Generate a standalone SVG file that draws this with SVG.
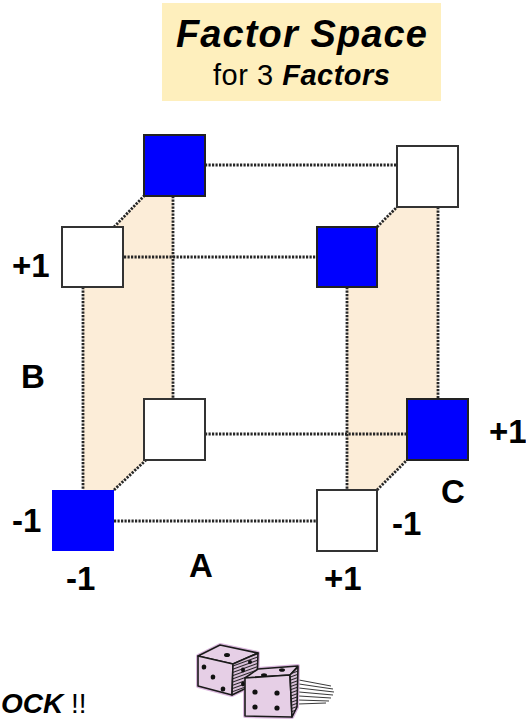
<svg xmlns="http://www.w3.org/2000/svg" width="526" height="719" viewBox="0 0 526 719">
<style>
.dot{fill:none;stroke:#262626;stroke-width:2.8;stroke-dasharray:2.2 1.3}
.wb{fill:#ffffff;stroke:#333333;stroke-width:2}
.bb{fill:#0000ff;stroke:#222222;stroke-width:2}
.bn{fill:#0000ff;stroke:none}
.lbl{font-family:"Liberation Sans",Arial,sans-serif;font-weight:bold;font-size:33px;fill:#000}
.shade{fill:#fcedd8;stroke:none}
.die{fill:#e6cfe6;stroke:#1a1a1a;stroke-width:1.6;stroke-linejoin:round}
.dieside{fill:#5a4a5a;stroke:#1a1a1a;stroke-width:1.6;stroke-linejoin:round}
.pip{fill:#111}
.ml{stroke:#222;stroke-width:0.9;fill:none}
</style>
<defs>
<pattern id="hatch" width="3" height="3" patternUnits="userSpaceOnUse" patternTransform="rotate(70)">
<rect width="3" height="3" fill="#d8bfd8"/>
<line x1="0" y1="0" x2="0" y2="3" stroke="#111" stroke-width="1.8"/>
</pattern>
</defs>

<g id="title">
<rect x="162" y="3" width="279" height="98" fill="#feefbd"/>
<text x="176" y="47" textLength="251" lengthAdjust="spacing" style="font-family:'Liberation Sans',Arial,sans-serif;font-weight:bold;font-style:italic;font-size:38px">Factor Space</text>
<text x="213" y="85" textLength="177" lengthAdjust="spacing" style="font-family:'Liberation Sans',Arial,sans-serif;font-size:29px">for 3 <tspan style="font-weight:bold;font-style:italic">Factors</tspan></text>
</g>

<g id="shading">
<polygon class="shade" points="83,227 114,227 144,196 173,196 173,460 146,460 114,490 83,490"/>
<polygon class="shade" points="347,227 377,227 397,207 438,207 438,460 407,460 377,490 347,490"/>
</g>

<g id="connectors">
<line class="dot" x1="205" y1="165" x2="397" y2="165"/>
<line class="dot" x1="124" y1="257" x2="317" y2="257"/>
<line class="dot" x1="205" y1="434" x2="407" y2="434"/>
<line class="dot" x1="114" y1="521" x2="317" y2="521"/>
<line class="dot" x1="83" y1="287" x2="83" y2="490"/>
<line class="dot" x1="173" y1="196" x2="173" y2="399"/>
<line class="dot" x1="347" y1="287" x2="347" y2="490"/>
<line class="dot" x1="438" y1="207" x2="438" y2="399"/>
<line class="dot" x1="114" y1="227" x2="144" y2="196"/>
<line class="dot" x1="114" y1="490" x2="146" y2="460"/>
<line class="dot" x1="377" y1="227" x2="397" y2="207"/>
<line class="dot" x1="377" y1="490" x2="407" y2="460"/>
</g>

<g id="n-back-top-left"><rect class="bb" x="144" y="135" width="61" height="61"/></g>
<g id="n-back-top-right"><rect class="wb" x="397" y="146" width="61" height="61"/></g>
<g id="n-front-top-left"><rect class="wb" x="62" y="227" width="61" height="60"/></g>
<g id="n-front-top-right"><rect class="bb" x="317" y="227" width="60" height="60"/></g>
<g id="n-back-bottom-left"><rect class="wb" x="144" y="399" width="61" height="61"/></g>
<g id="n-back-bottom-right"><rect class="bb" x="407" y="399" width="61" height="61"/></g>
<g id="n-front-bottom-left"><rect class="bn" x="52" y="490" width="62" height="61"/></g>
<g id="n-front-bottom-right"><rect class="wb" x="317" y="490" width="60" height="61"/></g>

<g id="labels">
<text class="lbl" x="12" y="277">+1</text>
<text class="lbl" x="21" y="388">B</text>
<text class="lbl" x="12" y="532">-1</text>
<text class="lbl" x="66" y="590">-1</text>
<text class="lbl" x="201" y="577" text-anchor="middle">A</text>
<text class="lbl" x="324" y="590">+1</text>
<text class="lbl" x="392" y="535">-1</text>
<text class="lbl" x="441" y="503">C</text>
<text class="lbl" x="489" y="443">+1</text>
</g>

<g id="footer">
<text x="1" y="713" style="font-family:'Liberation Sans',Arial,sans-serif;font-size:28px"><tspan style="font-weight:bold;font-style:italic">OCK</tspan> !!</text>
</g>

<g id="dice">
<path class="ml" d="M299,680 L331,686 M299,684 L333,689 M299,688 L334,692 M299,692 L333,695 M299,696 L331,698 M298,700 L329,701 M298,704 L326,703"/>
<path d="M198,656 L220,645 L258,653 L257,683 L232,695 L198,686 Z" fill="none" stroke="#d9b6dc" stroke-width="4" stroke-linejoin="round"/>
<path d="M245,678 L258,669 L298,666 L297,707 L292,717 L245,716 Z" fill="none" stroke="#d9b6dc" stroke-width="4" stroke-linejoin="round"/>
<path class="die" d="M198,656 L220,645 L258,653 L233,664 Z"/>
<path class="die" d="M198,656 L233,664 L232,695 L198,686 Z"/>
<path class="dieside" style="fill:url(#hatch)" d="M233,664 L258,653 L257,683 L232,695 Z"/>
<ellipse class="pip" cx="227" cy="655" rx="3" ry="2"/>
<ellipse class="pip" cx="204" cy="667" rx="2.3" ry="2.6"/>
<ellipse class="pip" cx="213" cy="677" rx="2.3" ry="2.6"/>
<ellipse class="pip" cx="223" cy="689" rx="2.3" ry="2.6"/>
<ellipse class="pip" cx="243" cy="670" rx="2" ry="2.4"/>
<ellipse class="pip" cx="250" cy="662" rx="2" ry="2"/>
<ellipse class="pip" cx="243" cy="684" rx="2" ry="2.4"/>
<path class="die" d="M245,678 L258,669 L298,666 L290,675 Z"/>
<path class="die" d="M245,678 L290,675 L292,717 L245,716 Z"/>
<path class="dieside" style="fill:url(#hatch)" d="M290,675 L298,667 L297,707 L292,717 Z"/>
<ellipse class="pip" cx="264" cy="675" rx="3" ry="1.8"/>
<ellipse class="pip" cx="282" cy="670" rx="3" ry="1.8"/>
<ellipse class="pip" cx="255" cy="692" rx="2.6" ry="2.6"/>
<ellipse class="pip" cx="277" cy="693" rx="2.6" ry="2.6"/>
<ellipse class="pip" cx="255" cy="707" rx="2.6" ry="2.6"/>
<ellipse class="pip" cx="277" cy="708" rx="2.6" ry="2.6"/>
</g>
</svg>
